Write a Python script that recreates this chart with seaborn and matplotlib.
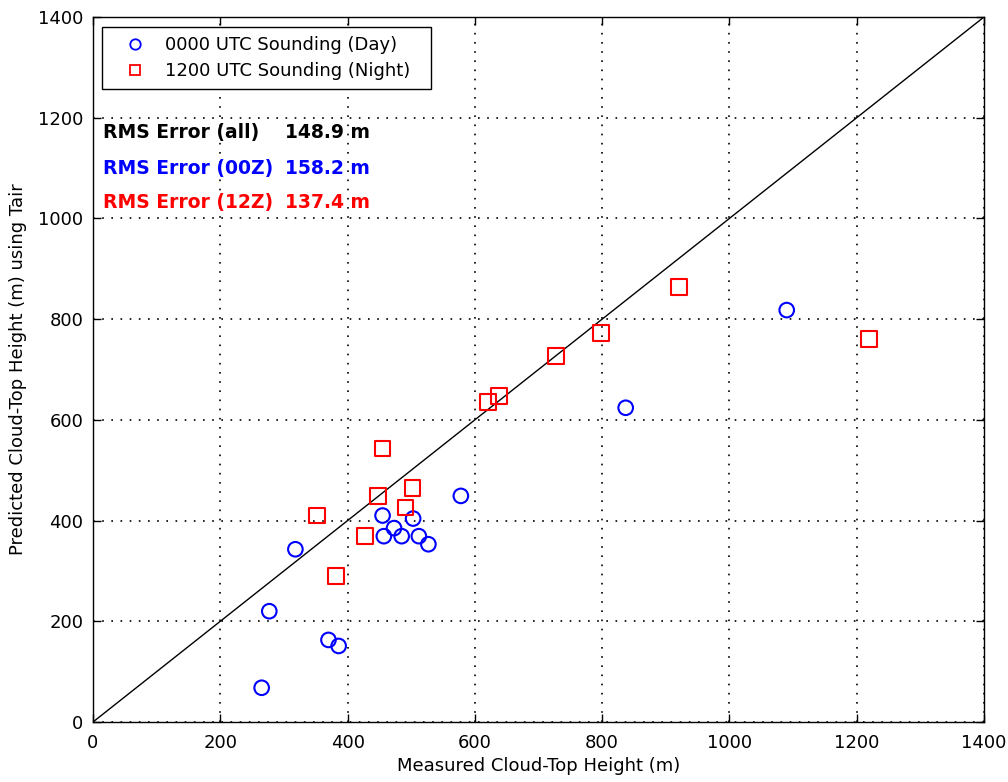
import numpy as np
import pandas as pd
import matplotlib
matplotlib.use("Agg")
import matplotlib.pyplot as plt
import seaborn as sns

# 0000 UTC soundings (day): measured vs predicted cloud-top height (m)
day_measured = [265, 277, 318, 370, 386, 455, 457, 473, 485, 503, 512, 527, 578, 837, 1090]
day_predicted = [68, 220, 343, 163, 151, 410, 369, 385, 369, 404, 369, 353, 449, 624, 818]

# 1200 UTC soundings (night)
night_measured = [455, 502, 448, 491, 352, 428, 382, 921, 798, 1219, 621, 638, 728]
night_predicted = [543, 464, 449, 426, 410, 369, 290, 864, 772, 761, 636, 648, 727]

series_labels = ["0000 UTC Sounding (Day)", "1200 UTC Sounding (Night)"]
rms_names = ["RMS Error (all)", "RMS Error (00Z)", "RMS Error (12Z)"]
rms_values = ["148.9 m", "158.2 m", "137.4 m"]
ticks = [0, 200, 400, 600, 800, 1000, 1200, 1400]

sns.set_style("ticks")
plt.rcParams["font.family"] = ["DejaVu Sans"]
plt.rcParams["font.size"] = 13
plt.rcParams["text.color"] = "black"
plt.rcParams["axes.labelcolor"] = "black"
plt.rcParams["xtick.color"] = "black"
plt.rcParams["ytick.color"] = "black"

df = pd.DataFrame({
    "measured": day_measured + night_measured,
    "predicted": day_predicted + night_predicted,
    "sounding": [series_labels[0]] * len(day_measured) + [series_labels[1]] * len(night_measured),
})

fig = plt.figure(figsize=(10.08, 7.82), dpi=100)
ax = fig.add_axes([93 / 1008, 1 - 722 / 782, 891 / 1008, 705 / 782])

# 1:1 reference line
ax.plot([0, 1400], [0, 1400], color="black", lw=1.0, zorder=2)

colors = ["#0000ff", "#ff0000"]
markers = ["o", "s"]
handles = []
for lab, col, mk, sz in zip(series_labels, colors, markers, [110, 130]):
    sub = df[df["sounding"] == lab]
    n_before = len(ax.collections)
    sns.scatterplot(data=sub, x="measured", y="predicted", marker=mk, s=sz,
                    ax=ax, legend=False, zorder=3)
    coll = ax.collections[n_before]
    coll.set_facecolor("none")
    coll.set_edgecolor(col)
    coll.set_linewidth(1.5)
    h = plt.Line2D([], [], ls="none", marker=mk, markersize=7.5,
                   markerfacecolor="none", markeredgecolor=col, markeredgewidth=1.3)
    handles.append(h)

ax.set_xlim(0, 1400)
ax.set_ylim(0, 1400)
ax.set_xticks(ticks)
ax.set_yticks(ticks)
ax.grid(True, linestyle=(0, (1, 4.5)), color="black", lw=1.2)
ax.tick_params(direction="in", length=6, width=1, top=True, right=True,
               labelsize=13, pad=7, colors="black")
ax.tick_params(axis="x", pad=9)
for sp in ax.spines.values():
    sp.set_color("black")
    sp.set_linewidth(1.0)

ax.set_xlabel("Measured Cloud-Top Height (m)", fontsize=13, labelpad=3)
ax.set_ylabel("Predicted Cloud-Top Height (m) using Tair", fontsize=13, labelpad=8)

leg = ax.legend(handles, series_labels, loc="upper left", bbox_to_anchor=(9 / 891, 1 - 10 / 705),
                fancybox=False, framealpha=1, edgecolor="black", fontsize=13,
                borderpad=0.5, handlelength=2.6, handletextpad=0.4, labelspacing=0.45,
                borderaxespad=0)
leg.get_frame().set_linewidth(1.0)
# extra room on the right of the legend entries
for t in leg.get_texts():
    t.set_text(t.get_text() + "  ")

for name, val, col, yv in zip(rms_names, rms_values, ["black", "#0000ff", "#ff0000"],
                              [1170, 1100, 1031]):
    ax.text(16, yv, name, color=col, fontsize=13.5, fontweight="bold", va="center", ha="left",
            zorder=4)
    ax.text(302, yv, val, color=col, fontsize=13.5, fontweight="bold", va="center", ha="left",
            zorder=4)

fig.savefig("out.png", dpi=100)
